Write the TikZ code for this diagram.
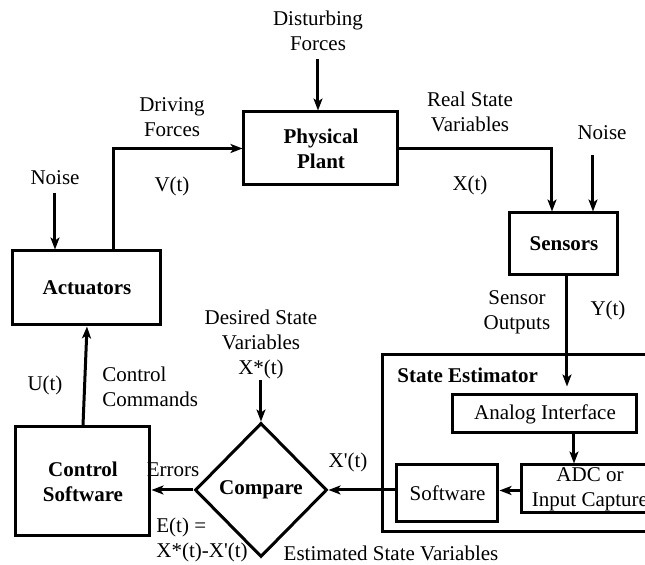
\documentclass[tikz,border=0pt]{standalone}
\usepackage{fontspec}
\setmainfont{Liberation Serif}[Ligatures=TeXOff]
\usetikzlibrary{arrows.meta,shapes.geometric,calc}
\begin{document}
\begin{tikzpicture}[x=0.5pt,y=-0.5pt,
  font=\fontsize{10.5}{12.5}\selectfont,
  box/.style={draw,line width=1.5pt,inner sep=0pt,align=center},
  bbox/.style={box,font=\fontsize{10.5}{12.5}\selectfont\bfseries},
  lbl/.style={inner sep=0pt,align=center},
  conn/.style={line width=1.5pt,-{Stealth[length=6pt,width=4.5pt,inset=1.5pt]}}]
\useasboundingbox (0,0) rectangle (645,565);
\begin{scope}
\clip (0,0) rectangle (645,565);
% boxes
\node[bbox,minimum width=77pt,minimum height=36.5pt] (plant) at (321,148.5) {Physical\\Plant};
\node[bbox,minimum width=74pt,minimum height=37pt] (act) at (87,288) {Actuators};
\node[bbox,minimum width=54pt,minimum height=31pt] (sens) at (564,244) {Sensors};
\node[bbox,minimum width=67pt,minimum height=54.5pt] (cs) at (83,481.5) {Control\\Software};
\node[box,minimum width=133.5pt,minimum height=88.5pt] (est) at (516.5,443.5) {};
\node[lbl,anchor=west,font=\fontsize{10.5}{12.5}\selectfont\bfseries] (estl) at (397,375) {State Estimator};
\node[box,minimum width=92pt,minimum height=19pt] (ana) at (545,414) {Analog Interface};
\node[box,minimum width=68pt,minimum height=24pt] (adc) at (590,489) {ADC or\\Input Capture};
\node[box,minimum width=50.5pt,minimum height=28.5pt] (sw) at (447.5,493.5) {Software};
\node[draw,line width=1.5pt,diamond,inner sep=0pt,minimum width=66pt,minimum height=67pt,font=\fontsize{10.5}{12.5}\selectfont\bfseries] (cmp) at (261,490) {Compare};
\end{scope}
% labels
\node[lbl] (ldist) at (318,31) {Disturbing\\Forces};
\node[lbl] (ldrive) at (172,117) {Driving\\Forces};
\node[lbl] (lv) at (172,186) {V(t)};
\node[lbl] (lnoise1) at (55,178) {Noise};
\node[lbl] (lreal) at (470,112) {Real State\\Variables};
\node[lbl] (lx) at (470,185) {X(t)};
\node[lbl] (lnoise2) at (602,133) {Noise};
\node[lbl] (lsout) at (517,312) {Sensor\\Outputs};
\node[lbl] (ly) at (608,310) {Y(t)};
\node[lbl] (lu) at (45,385) {U(t)};
\node[lbl,align=left,anchor=west] (lcc) at (102,387) {Control\\Commands};
\node[lbl] (ldes) at (261,344) {Desired State\\Variables\\X*(t)};
\node[lbl] (lerr) at (173,470) {Errors};
\node[lbl,align=left,anchor=west] (le) at (156,540) {E(t) =\\X*(t)-X'(t)};
\node[lbl] (lxp) at (348,462) {X'(t)};
\node[lbl] (lest) at (391,553) {Estimated State Variables};
% coordinates
\coordinate (cdist) at (318,59);
\coordinate (cn1) at (55,193);
\coordinate (cn2) at (593,155);
\coordinate (cdes) at (261,380);
\coordinate (cxa) at (114,0);
\coordinate (cxs) at (552,0);
\coordinate (cxi) at (567,0);
\coordinate (cxb) at (574,0);
% connectors
\draw[conn] (cdist) -- (cdist |- plant.north);
\draw[conn] (cn1) -- (cn1 |- act.north);
\draw[conn] (cxa |- act.north) |- (plant.west);
\draw[conn] (plant.east) -| (cxs |- sens.north);
\draw[conn] (cn2) -- (cn2 |- sens.north);
\draw[conn,shorten >=3.5pt] (cxi |- sens.south) -- (cxi |- ana.north);
\draw[conn] (cxb |- ana.south) -- (cxb |- adc.north);
\draw[conn] (adc.west |- sw.east) ++(0,-3) -- ($(sw.east)+(0,-3)$);
\draw[conn] (sw.west |- cmp.east) -- (cmp.east);
\draw[conn] (cdes) -- (cmp.north);
\draw[conn] (cmp.west) -- (cmp.west -| cs.east);
\draw[conn] (cs.north) -- (act.south);
\end{tikzpicture}
\end{document}
